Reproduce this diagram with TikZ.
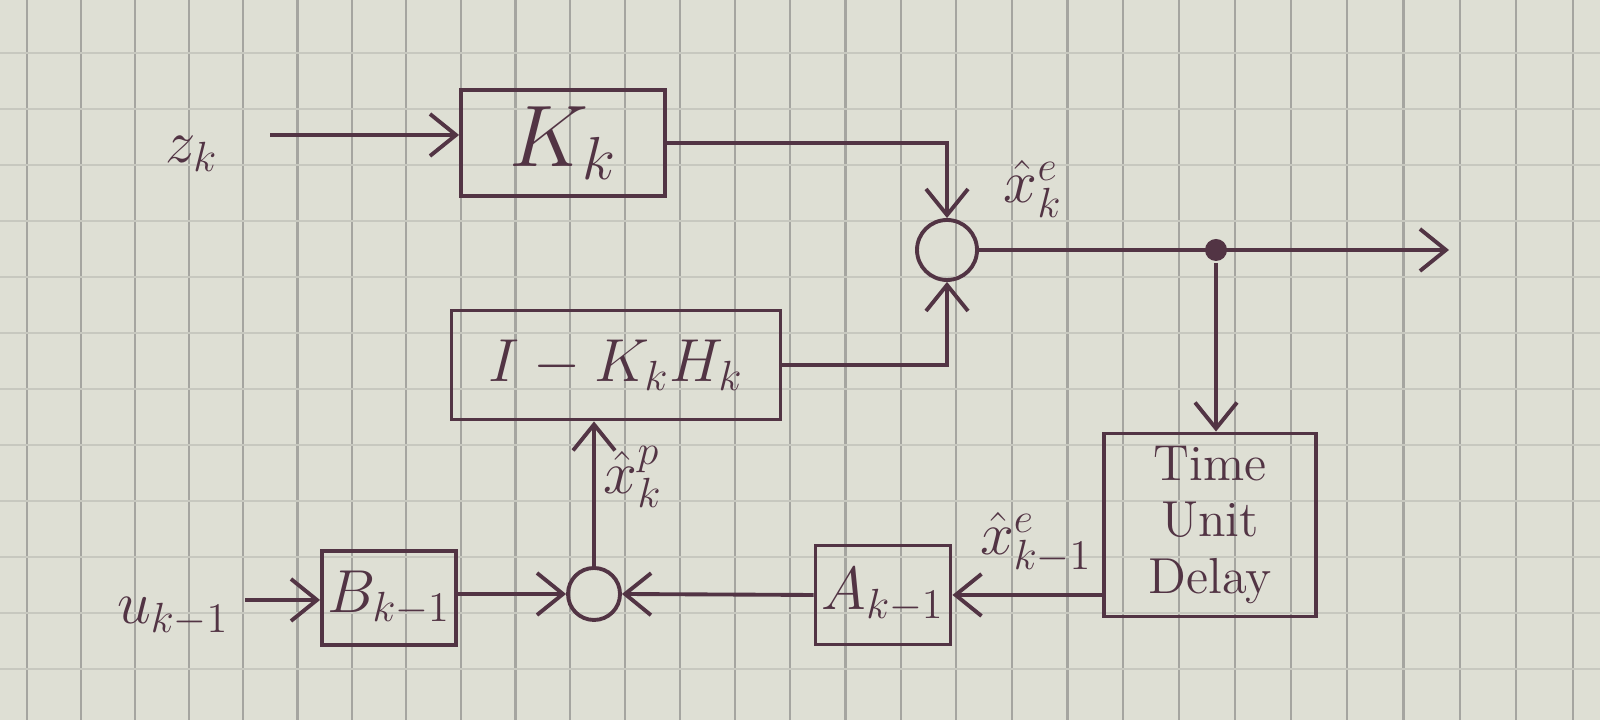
\documentclass[tikz,border=0pt]{standalone}
\usetikzlibrary{arrows.meta}
\definecolor{ink}{RGB}{82,52,68}
\definecolor{paper}{RGB}{222,223,212}
\definecolor{rule}{RGB}{165,165,160}
\begin{document}
\begin{tikzpicture}[
  line width=1.1pt, draw=ink, text=ink,
  arr/.style={draw=ink, -{Straight Barb[length=2.6mm,width=4.2mm]}},
  blockbox/.style={draw=ink, rectangle, inner sep=0pt},
  sumnode/.style={draw=ink, circle, inner sep=0pt},
  dotnode/.style={fill=ink, circle, inner sep=0pt, minimum size=2.2mm},
  lbl/.style={font=\LARGE}
]
\useasboundingbox (0,0) rectangle (16,7.2);
\fill[paper] (0,0) rectangle (16,7.2);
\foreach \n in {-2,...,26}
  \draw[rule, line width=0.6pt] ({(135+54*\n+0.05*\n*\n)/100},0) -- ++(0,7.2);
\foreach \m in {0,...,11}
  \draw[rule!40!paper, line width=0.5pt] (0,{7.2-(53+56*\m)/100}) -- ++(16,0);

\node[blockbox, minimum width=2.04cm, minimum height=1.06cm, font=\fontsize{24}{28}\selectfont] (gain) at (5.63,5.77) {$K_k$};
\node[blockbox, minimum width=3.29cm, minimum height=1.09cm, font=\LARGE] (ikh) at (6.16,3.55) {$I - K_k H_k$};
\node[blockbox, minimum width=1.34cm, minimum height=0.94cm, font=\LARGE] (bk) at (3.89,1.22) {$B_{k-1}$};
\node[blockbox, minimum width=1.35cm, minimum height=0.99cm, font=\LARGE] (ak) at (8.83,1.25) {$A_{k-1}$};
\node[blockbox, minimum width=2.12cm, minimum height=1.83cm, align=center, font=\fontsize{14.4}{16}\selectfont] (delay) at (12.10,1.95) {Time\\Unit\\Delay};

\node[sumnode, minimum size=0.60cm] (sumup) at (9.47,4.70) {};
\node[sumnode, minimum size=0.52cm] (sumlow) at (5.94,1.26) {};
\node[dotnode] (branch) at (12.16,4.70) {};

\node[lbl] (zk) at (1.92,5.66) {$z_k$};
\node[lbl] (uk) at (1.73,1.03) {$u_{k-1}$};
\node[lbl] (xe) at (10.33,5.31) {$\hat{x}_k^e$};
\node[lbl] (xp) at (6.33,2.43) {$\hat{x}_k^p$};
\node[lbl] (xold) at (10.36,1.77) {$\hat{x}_{k-1}^e$};

\coordinate (zin) at (2.70,5.85);
\coordinate (uin) at (2.45,1.20);
\coordinate (out) at (14.49,4.70);

\draw[arr] (zin) -- (zin -| gain.west);
\draw[arr] (gain.east) -| (sumup.north);
\draw[arr] (ikh.east) -| (sumup.south);
\draw[arr] (sumup.east) -- (out);
\draw[arr] (branch) -- (branch |- delay.north);
\draw[arr] (delay.west |- ak.east) -- (ak.east);
\draw[arr] (ak.west) -- (sumlow.east);
\draw[arr] (uin) -- (uin -| bk.west);
\draw[arr] (bk.east |- sumlow.west) -- (sumlow.west);
\draw[arr] (sumlow.north) -- (sumlow.north |- ikh.south);
\end{tikzpicture}
\end{document}
